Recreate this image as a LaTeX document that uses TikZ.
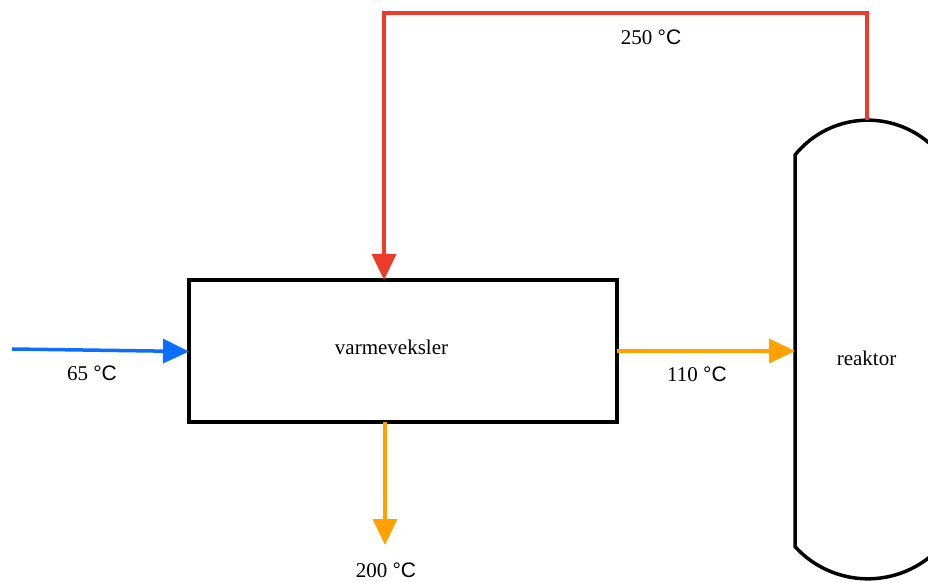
\documentclass[tikz,border=0pt]{standalone}
\usepackage{fontspec}
\setmainfont{Liberation Serif}
\newfontfamily\degfont{Liberation Sans}
\newcommand{\degC}{{\degfont °C}}
\usetikzlibrary{arrows.meta}
\definecolor{flowblue}{RGB}{10,110,255}
\definecolor{floworange}{RGB}{255,162,0}
\definecolor{flowred}{RGB}{238,58,43}
\tikzset{
  pipe/.style={line width=3.5pt, -{Triangle[length=26pt,width=24pt]}},
  unit/.style={draw=black, line width=3.5pt},
  lbl/.style={font=\fontsize{21}{25}\selectfont, inner sep=0pt}
}
\begin{document}
\begin{tikzpicture}[x=1pt,y=1pt]
\useasboundingbox (0,0) rectangle (928,581);
\clip (0,0) rectangle (928,581);
% heat exchanger
\node[unit, minimum width=428pt, minimum height=142pt, inner sep=0pt] (hx) at (403,230) {};
\node[lbl] (hxlabel) at (391.5,233.5) {varmeveksler};
% reactor
\draw[unit] (795,426) arc[start angle=141.1, end angle=38.9, radius=93.6]
  -- ++(0,-391.7) arc[start angle=-42.4, end angle=-137.6, radius=98.6] -- cycle;
\node[lbl] (reaktor) at (866.5,223) {reaktor};
% connector coordinates
\coordinate (inl) at (12,232);
\coordinate (hxin) at (189,229.5);
\coordinate (hxout) at (617,230);
\coordinate (rl) at (795,230);
\coordinate (hxb) at (385,159);
\coordinate (outb) at (385,36);
\coordinate (rtop) at (867,461);
\coordinate (rc) at (867,568);
\coordinate (hxt) at (384,301);
% streams
\draw[pipe, flowblue] (inl) -- (hxin);
\draw[pipe, floworange] (hxout) -- (rl);
\draw[pipe, floworange] (hxb) -- (outb);
\draw[pipe, flowred] (rtop) -- (rc) -| (hxt);
% labels
\node[lbl] (t65) at (92,208) {65 \degC};
\node[lbl] (t110) at (697,207) {110 \degC};
\node[lbl] (t200) at (386,11) {200 \degC};
\node[lbl] (t250) at (651,544) {250 \degC};
\end{tikzpicture}
\end{document}
